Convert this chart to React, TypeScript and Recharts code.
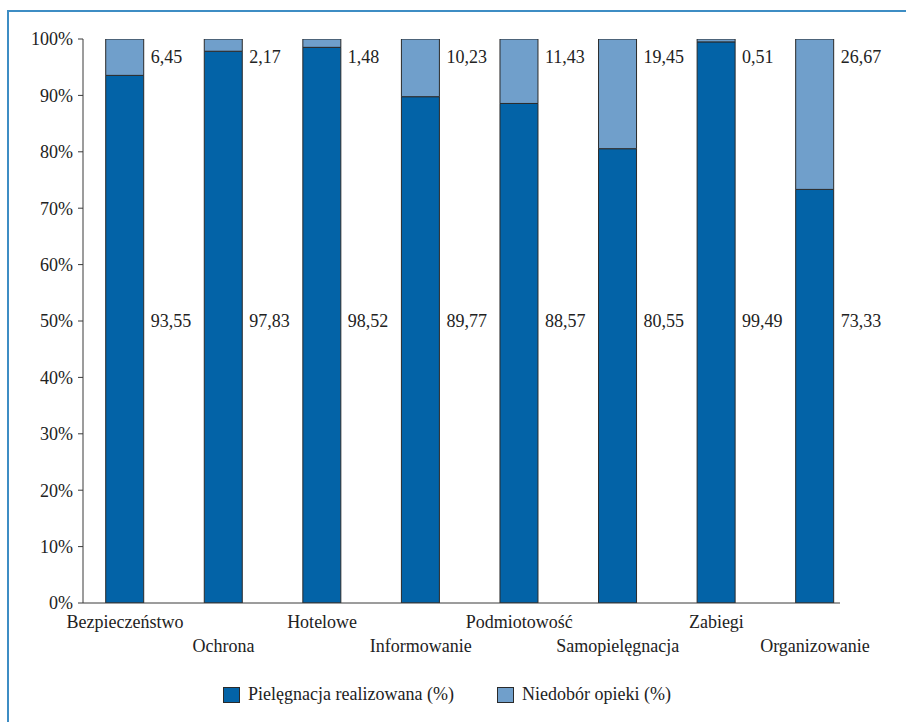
import React from 'react';
import { BarChart, Bar, XAxis, YAxis, LabelList } from 'recharts';

const categories = ['Bezpieczeństwo', 'Ochrona', 'Hotelowe', 'Informowanie', 'Podmiotowość', 'Samopielęgnacja', 'Zabiegi', 'Organizowanie'];
const realized = [93.55, 97.83, 98.52, 89.77, 88.57, 80.55, 99.49, 73.33];
const shortage = [6.45, 2.17, 1.48, 10.23, 11.43, 19.45, 0.51, 26.67];
const yTicks = [0, 10, 20, 30, 40, 50, 60, 70, 80, 90, 100];
const seriesNames = ['Pielęgnacja realizowana (%)', 'Niedobór opieki (%)'];

const data = categories.map((name, i) => ({ idx: i, name, realized: realized[i], shortage: shortage[i] }));

const DARK = '#0363A7';
const LIGHT = '#709FCB';
const EDGE = '#2a2a2a';
const AXIS = '#3a3a3a';
const FONT = '"Liberation Serif", "Times New Roman", serif';
const LOW_LABEL_PCT = 50;
const HIGH_LABEL_PCT = 96.8;

const fmt = (v: number) => v.toFixed(2).replace('.', ',');

const LowLabel = (props: any) => {
  const { x, y, width, height, value } = props;
  const ppp = height / value;
  const y0 = y + height;
  const ly = y0 - LOW_LABEL_PCT * ppp;
  return (
    <text x={x + width + 7} y={ly} dy="0.35em" fontFamily={FONT} fontSize={18} fill="#222">
      {fmt(value)}
    </text>
  );
};

const HighLabel = (props: any) => {
  const { x, y, width, height, value } = props;
  const ppp = height / value;
  const ly = y + (100 - HIGH_LABEL_PCT) * ppp;
  return (
    <text x={x + width + 7} y={ly} dy="0.35em" fontFamily={FONT} fontSize={18} fill="#222">
      {fmt(value)}
    </text>
  );
};

const CatTick = (props: any) => {
  const { x, y, payload } = props;
  const i = Math.round(payload.value);
  const name = categories[i];
  if (name === undefined) return null;
  return (
    <text x={x} y={y + (i % 2 === 0 ? 25 : 49)} textAnchor="middle" fontFamily={FONT} fontSize={18} fill="#222">
      {name}
    </text>
  );
};

export default function App() {
  return (
    <div style={{ position: 'absolute', left: 0, top: 0, width: 906, height: 722, overflow: 'hidden', background: '#fff' }}>
      <div
        style={{
          position: 'absolute',
          left: 7,
          top: 10,
          right: 0,
          bottom: 0,
          borderLeft: '2px solid #3D8DC4',
          borderTop: '2px solid #3D8DC4',
        }}
      />
      <div style={{ position: 'absolute', left: 0, top: 0 }}>
        <BarChart width={906} height={722} data={data} margin={{ top: 39, right: 66, left: 0, bottom: 59 }}>
          <XAxis
            type="number"
            dataKey="idx"
            domain={[-0.426, 7.254]}
            ticks={[0, 1, 2, 3, 4, 5, 6, 7]}
            interval={0}
            tickLine={false}
            tickSize={0}
            tickMargin={0}
            height={60}
            stroke={AXIS}
            tick={<CatTick />}
            allowDataOverflow
          />
          <YAxis
            type="number"
            domain={[0, 100]}
            ticks={yTicks}
            interval={0}
            width={83}
            tickSize={5}
            tickMargin={5}
            stroke={AXIS}
            tickFormatter={(v: number) => `${v}%`}
            tick={{ fontFamily: FONT, fontSize: 18, fill: '#222' }}
            allowDataOverflow
          />
          <Bar dataKey="realized" stackId="a" fill={DARK} stroke={EDGE} strokeWidth={1} barSize={38} isAnimationActive={false}>
            <LabelList dataKey="realized" content={<LowLabel />} />
          </Bar>
          <Bar dataKey="shortage" stackId="a" fill={LIGHT} stroke={EDGE} strokeWidth={1} barSize={38} isAnimationActive={false}>
            <LabelList dataKey="shortage" content={<HighLabel />} />
          </Bar>
        </BarChart>
      </div>
      <div
        style={{
          position: 'absolute',
          top: 684,
          left: 0,
          width: 906,
          display: 'flex',
          justifyContent: 'center',
          fontFamily: FONT,
          fontSize: 18,
          color: '#222',
        }}
      >
        {seriesNames.map((n, i) => (
          <div key={n} style={{ display: 'flex', alignItems: 'center', marginLeft: i === 0 ? -12 : 43 }}>
            <span
              style={{
                display: 'inline-block',
                width: 15,
                height: 14,
                background: i === 0 ? DARK : LIGHT,
                border: `1px solid ${EDGE}`,
                marginRight: 8,
              }}
            />
            <span>{n}</span>
          </div>
        ))}
      </div>
    </div>
  );
}
